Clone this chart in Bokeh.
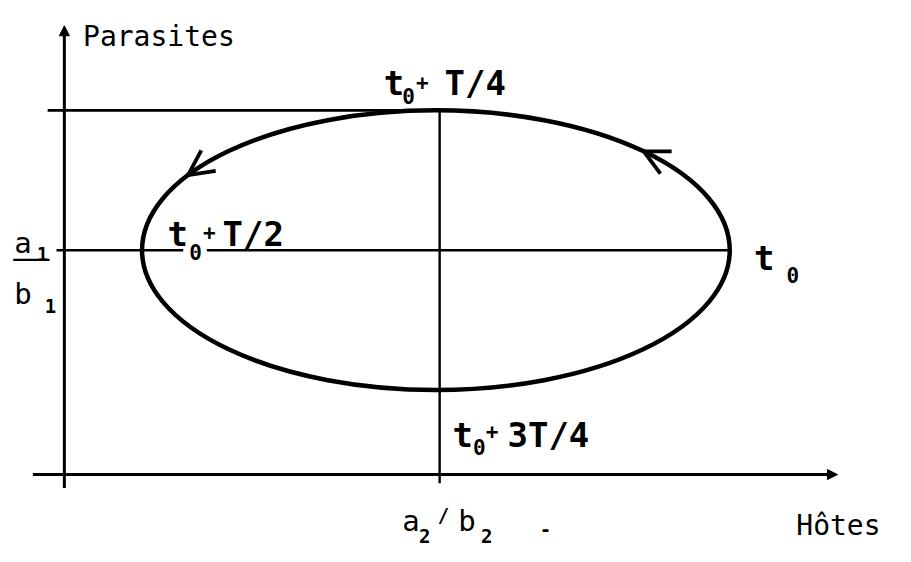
import numpy as np
from bokeh.plotting import figure
from bokeh.models import Range1d, Arrow, NormalHead, OpenHead
from bokeh.core.properties import value
from bokeh.embed import file_html
from bokeh.resources import INLINE

# ---- data (model units: equilibrium a2/b2 = 1, a1/b1 = 1) ----
x_eq = 1.0            # a2/b2
y_eq = 1.0            # a1/b1
cycle_cx = 0.99       # centre of the closed orbit (hosts)
cycle_cy = 1.0        # centre of the closed orbit (parasites)
cycle_ax = 0.783      # half width of the orbit
cycle_ay = 0.623      # half height of the orbit
arrow_angles_deg = [147.5, 45.0]   # positions of the direction arrows on the orbit
x_axis_span = [-0.084, 2.06]
y_axis_span = [-0.06, 2.0]

# reference-image pixel -> model helpers (axes origin at pixel 65,488)
def X(px):
    return (px - 65) / 382.0

def Y(py):
    return (488 - py) / 231.0

W, H = 895, 546
p = figure(width=W, height=H, output_backend="svg", toolbar_location=None,
           x_range=Range1d(X(0), X(911)), y_range=Range1d(Y(562), Y(0)),
           x_axis_location=None, y_axis_location=None, min_border=0)
p.xgrid.visible = False
p.ygrid.visible = False
p.outline_line_color = None
p.background_fill_color = "white"
p.border_fill_color = "white"

K = "black"

# axes with arrow heads
p.add_layout(Arrow(end=NormalHead(size=10, fill_color=K, line_color=K),
                   x_start=0, y_start=y_axis_span[0], x_end=0, y_end=y_axis_span[1],
                   line_width=3, line_color=K))
p.add_layout(Arrow(end=NormalHead(size=10, fill_color=K, line_color=K),
                   x_start=x_axis_span[0], y_start=0, x_end=x_axis_span[1], y_end=0,
                   line_width=3, line_color=K))

top_y = cycle_cy + cycle_ay
# horizontal line at the orbit maximum
p.line([X(48), x_eq], [top_y, top_y], line_width=2.6, line_color=K)
# horizontal line at a1/b1 (with a small gap for the label)
p.line([X(57), X(186)], [y_eq, y_eq], line_width=2.4, line_color=K)
p.line([X(210), cycle_cx + cycle_ax], [y_eq, y_eq], line_width=2.4, line_color=K)
# vertical line at a2/b2
p.line([x_eq, x_eq], [top_y, Y(497)], line_width=2.4, line_color=K)

# closed orbit
p.ellipse(x=[cycle_cx], y=[cycle_cy], width=[2 * cycle_ax], height=[2 * cycle_ay],
          fill_color=None, line_color=K, line_width=4.5)

# direction arrows (counter-clockwise)
for a in arrow_angles_deg:
    t1 = np.radians(a)
    t0 = np.radians(a - 3)
    p.add_layout(Arrow(end=OpenHead(size=25, line_width=3.8, line_color=K),
                       x_start=cycle_cx + cycle_ax * np.cos(t0), y_start=cycle_cy + cycle_ay * np.sin(t0),
                       x_end=cycle_cx + cycle_ax * np.cos(t1), y_end=cycle_cy + cycle_ay * np.sin(t1),
                       line_alpha=0))

FONT = value("DejaVu Sans Mono")

def txt(items, size, bold=False):
    p.text(x=[X(i[1]) for i in items], y=[Y(i[2]) for i in items], text=[i[0] for i in items],
           text_font=FONT, text_font_size=size, text_font_style="bold" if bold else "normal",
           text_color=K, text_baseline="alphabetic", text_align="left")

# axis titles
txt([("Parasites", 84, 37), ("Hôtes", 810, 540)], "28px")

# time labels: main parts
txt([("t", 390, 85), ("T/4", 452, 85),
     ("t", 170, 240), ("T/2", 226, 240),
     ("t", 460, 447), ("3T/4", 516, 447),
     ("t", 767, 265)], "34px", bold=True)
# subscripts 0 and plus signs
txt([("0", 409, 98), ("+", 423, 84),
     ("0", 192, 259), ("+", 206, 238),
     ("0", 481, 460), ("+", 494, 443),
     ("0", 800, 283)], "21px", bold=True)

# equilibrium labels
txt([("a", 409, 536), ("b", 466, 536), ("a", 14, 250), ("b", 14, 302)], "29px")
txt([("2", 426, 551), ("/", 445, 530), ("2", 489, 551), ("-", 549, 544),
     ("1", 37, 261), ("1", 45, 314)], "19px", bold=True)
p.line([X(13), X(50)], [Y(267), Y(267)], line_width=2.4, line_color=K)

open("out.html", "w").write(file_html(p, INLINE))
